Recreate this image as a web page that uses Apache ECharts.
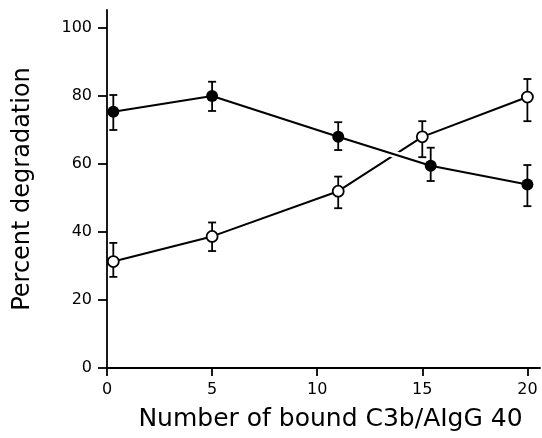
<!DOCTYPE html>
<html>
<head>
<meta charset="utf-8">
<script src="https://cdn.jsdelivr.net/npm/echarts@6/dist/echarts.min.js"></script>
<style>
  html, body { margin: 0; padding: 0; background: #fff; }
  #chart { width: 542px; height: 438px; }
</style>
</head>
<body>
<div id="chart"></div>
<script>
// data
var yTicks = [0, 20, 40, 60, 80, 100];
var xTicks = [0, 5, 10, 15, 20];

var filledX = [0.3, 5, 11, 15.4, 20];
var filledY = [75.4, 80, 68, 59.5, 54];
var filledLow = [70, 75.6, 64.1, 55, 47.6];
var filledHigh = [80.3, 84.2, 72.3, 64.8, 59.7];

var openX = [0.3, 5, 11, 15, 20];
var openY = [31.3, 38.7, 52, 68, 79.7];
var openLow = [26.8, 34.4, 47, 62, 72.6];
var openHigh = [36.8, 42.8, 56.3, 72.6, 85];

var FONT = 'DejaVu Sans';

var chart = echarts.init(document.getElementById('chart'));

function pairs(xs, ys) {
  return xs.map(function (x, i) { return [x, ys[i]]; });
}
function errData(xs, lo, hi) {
  return xs.map(function (x, i) { return [x, lo[i], hi[i]]; });
}

// error bar: vertical stem with short caps
function renderErr(params, api) {
  var top = api.coord([api.value(0), api.value(2)]);
  var bot = api.coord([api.value(0), api.value(1)]);
  var w = 4;
  var style = { stroke: '#000', lineWidth: 1.8 };
  return {
    type: 'group',
    children: [
      { type: 'line', shape: { x1: top[0], y1: top[1], x2: bot[0], y2: bot[1] }, style: style },
      { type: 'line', shape: { x1: top[0] - w, y1: top[1], x2: top[0] + w, y2: top[1] }, style: style },
      { type: 'line', shape: { x1: bot[0] - w, y1: bot[1], x2: bot[0] + w, y2: bot[1] }, style: style }
    ]
  };
}

var option = {
  animation: false,
  backgroundColor: '#fff',
  grid: { left: 107, right: 2, top: 10, bottom: 70 },
  xAxis: {
    type: 'value',
    min: 0,
    max: 20.6,
    name: 'Number of bound C3b/AIgG 40',
    nameLocation: 'middle',
    nameGap: 39,
    nameTextStyle: { fontFamily: FONT, fontSize: 25, color: '#000', padding: [0, 0, 0, 14] },
    axisLine: { show: true, lineStyle: { color: '#000', width: 1.8 } },
    axisTick: { show: true, length: 8, customValues: xTicks, lineStyle: { color: '#000', width: 1.8 } },
    axisLabel: { customValues: xTicks, margin: 14, fontFamily: FONT, fontSize: 16, color: '#000' },
    splitLine: { show: false }
  },
  yAxis: {
    type: 'value',
    min: 0,
    max: 105.3,
    name: 'Percent degradation',
    nameLocation: 'middle',
    nameGap: 72,
    nameRotate: 90,
    nameTextStyle: { fontFamily: FONT, fontSize: 24, color: '#000' },
    axisLine: { show: true, lineStyle: { color: '#000', width: 1.8 } },
    axisTick: { show: true, length: 9, customValues: yTicks, lineStyle: { color: '#000', width: 1.8 } },
    axisLabel: { customValues: yTicks, margin: 15, fontFamily: FONT, fontSize: 16, color: '#000' },
    splitLine: { show: false }
  },
  series: [
    {
      type: 'custom',
      renderItem: renderErr,
      data: errData(openX, openLow, openHigh),
      z: 1,
      silent: true
    },
    {
      type: 'custom',
      renderItem: renderErr,
      data: errData(filledX, filledLow, filledHigh),
      z: 1,
      silent: true
    },
    {
      name: 'open',
      type: 'line',
      data: pairs(openX, openY),
      symbol: 'circle',
      symbolSize: 11,
      showSymbol: true,
      lineStyle: { color: '#000', width: 2 },
      itemStyle: { color: '#fff', borderColor: '#000', borderWidth: 1.8 },
      z: 2
    },
    {
      // white halo under the filled line, breaks the open line at the crossing
      name: 'halo',
      type: 'line',
      data: pairs(filledX, filledY),
      symbol: 'none',
      lineStyle: { color: '#fff', width: 7 },
      z: 3,
      silent: true
    },
    {
      name: 'filled',
      type: 'line',
      data: pairs(filledX, filledY),
      symbol: 'circle',
      symbolSize: 12,
      lineStyle: { color: '#000', width: 2 },
      itemStyle: { color: '#000', borderColor: '#000', borderWidth: 0 },
      z: 4
    }
  ]
};

chart.setOption(option);
</script>
</body>
</html>
